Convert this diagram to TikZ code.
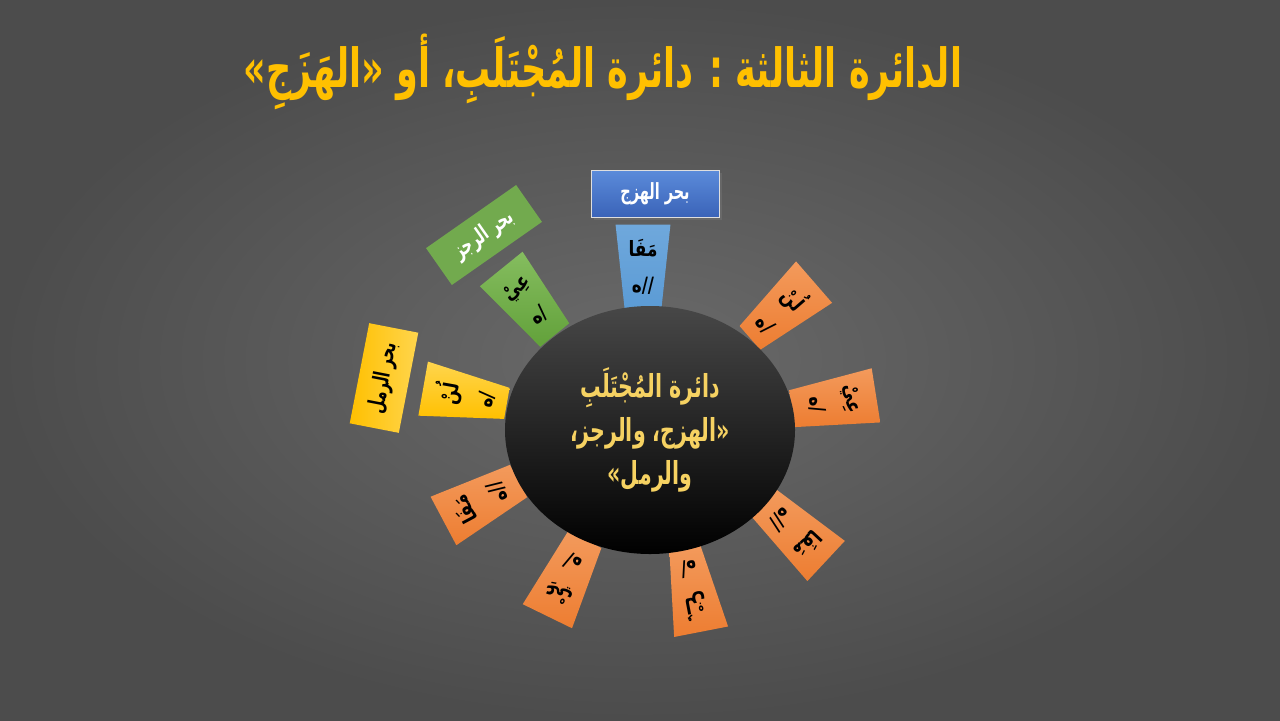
\documentclass[tikz,border=0pt]{standalone}
\usepackage{fontspec}
\usetikzlibrary{shapes.geometric,shadows}
\newfontfamily\arabicfont[Script=Arabic,FakeStretch=0.65]{DejaVu Sans}
\newfontfamily\arabicseg[Script=Arabic,FakeStretch=0.8]{DejaVu Sans}
\TeXXeTstate=1

\definecolor{bgin}{HTML}{6A6A6A}
\definecolor{bgout}{HTML}{4C4C4C}
\definecolor{titleyellow}{HTML}{FFC000}
\definecolor{hubyellow}{HTML}{F6D262}
\definecolor{segorange}{HTML}{ED7D31}
\definecolor{segorangelt}{HTML}{F39A5C}
\definecolor{segblue}{HTML}{5B9BD5}
\definecolor{segbluelt}{HTML}{6FA8DC}
\definecolor{seggreen}{HTML}{62A13A}
\definecolor{seggreenlt}{HTML}{85BD5F}
\definecolor{segyellow}{HTML}{FFC000}
\definecolor{segyellowlt}{HTML}{FFD54D}
\definecolor{boxblue}{HTML}{3A63B8}
\definecolor{boxbluelt}{HTML}{5B8BDA}

\begin{document}
\begin{tikzpicture}[x=0.03cm,y=-0.03cm,
  seg/.style={trapezium, trapezium angle=82.6, trapezium stretches=true,
    minimum width=1.65cm, minimum height=2.55cm, shape border rotate=180,
    inner sep=0pt, align=center, text=black,
    font=\arabicseg\bfseries\fontsize{18}{31}\selectfont},
  lblbox/.style={rectangle, inner sep=0pt, align=center,
    font=\arabicfont\bfseries\fontsize{19}{22}\selectfont}]

\shade[inner color=bgin, outer color=bgout] (0,0) rectangle (1280,720);
\useasboundingbox (0,0) rectangle (1280,720);

\node[text=titleyellow, font=\arabicfont\bfseries\fontsize{46}{52}\selectfont] (title) at (603,72)
  {\beginR الدائرة الثالثة : دائرة المُجْتَلَبِ، أو «الهَزَجِ»\endR};

% segments of the circle
\foreach \px/\py/\rot/\lt/\dk/\syl/\mrk/\nm in {
  643/267/0/segbluelt/segblue/{مَفَا}/{//}/a,
  528/302/39/seggreenlt/seggreen/{عِيْ}/{/}/b,
  465/396/80/segyellowlt/segyellow/{لُنْ}/{/}/c,
  481/501/118/segorangelt/segorange/{مَفَا}/{//}/d,
  566/578/154/segorangelt/segorange/{عِيْ}/{/}/e,
  693/590/191/segorangelt/segorange/{لُنْ}/{/}/f,
  795/532/227/segorangelt/segorange/{مَفَا}/{//}/g,
  834/402/279/segorangelt/segorange/{عِيْ}/{/}/h,
  782/310/311/segorangelt/segorange/{لُنْ}/{/}/i}{
  \node[seg, top color=\lt, bottom color=\dk, rotate=\rot] (seg\nm) at (\px,\py)
    {\beginR\syl\endR\\\hbox{ه}\hbox{\mrk}};
}

\node[ellipse, minimum width=8.7cm, minimum height=7.44cm, inner sep=0pt,
  top color=black!72, middle color=black, bottom color=black] (hub) at (650,430) {};
\node[text=hubyellow, align=center, font=\arabicfont\bfseries\fontsize{27}{37}\selectfont] (hubtext) at (hub.center)
  {\beginR دائرة المُجْتَلَبِ\endR\\\beginR «الهزج، والرجز،\endR\\\beginR والرمل»\endR};

% names of the metres
\node[lblbox, top color=boxbluelt, bottom color=boxblue, draw=gray!25, drop shadow={opacity=0.35},
  text=white, minimum width=3.84cm, minimum height=1.41cm] (lblhazaj) at (655,194) {\beginR بحر الهزج\endR};
\node[lblbox, fill=seggreen!90!white, text=white, minimum width=3.3cm, minimum height=1.35cm,
  rotate=35] (lblrajaz) at (484,235) {\beginR بحر الرجز\endR};
\node[lblbox, left color=segyellow, right color=segyellowlt, text=black, minimum width=3.06cm,
  minimum height=1.5cm, rotate=79] (lblramal) at (384,378) {\beginR بحر الرمل\endR};
\end{tikzpicture}
\end{document}
